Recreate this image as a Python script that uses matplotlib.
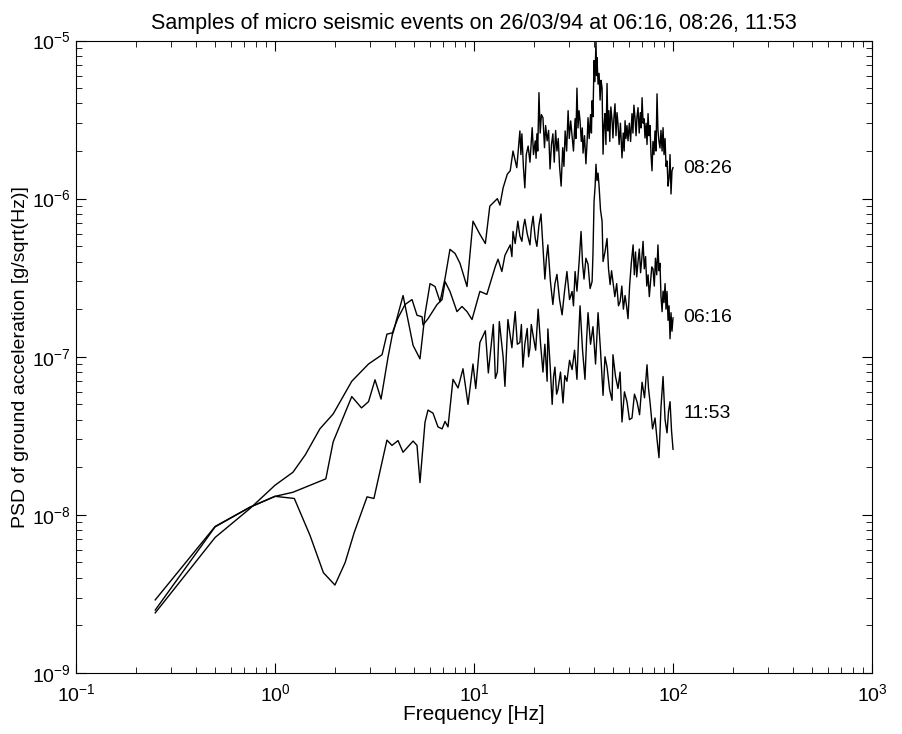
import matplotlib
matplotlib.use("Agg")
import matplotlib.pyplot as plt

plt.rcParams["font.family"] = ["Liberation Sans", "DejaVu Sans"]
plt.rcParams["mathtext.default"] = "regular"

title = "Samples of micro seismic events on 26/03/94 at 06:16, 08:26, 11:53"

# 08:26 event
f_0826 = [0.25, 0.5, 0.75, 1.0, 1.23, 1.42, 1.68, 1.96, 2.43, 2.95, 3.45, 3.65, 3.92,
          4.40, 4.94, 5.35, 5.67, 6.01, 6.37, 6.75, 7.15, 7.57, 8.03, 8.50, 9.22,
          9.88, 10.7, 11.4, 12.0, 13.1, 13.5, 14.0, 14.7, 15.2, 15.7, 16.4,
          17.0, 17.2, 17.4, 17.7, 18.0, 18.3, 18.7, 19.1, 19.6, 19.9, 20.3, 20.5,
          20.7, 20.9, 21.2, 21.5, 21.8, 22.2, 22.6, 22.9, 23.3, 23.7, 24.1, 24.5,
          24.9, 25.3, 25.7, 26.1, 26.5, 26.9, 27.4, 27.9, 28.3, 28.7, 29.2, 29.7,
          30.1, 30.6, 31.1, 31.6, 32.2, 32.5, 32.9, 33.3, 33.7, 34.1, 34.6, 35.0,
          35.3, 35.9, 36.5, 37.0, 37.4, 37.9, 38.5, 38.9, 39.2, 39.6, 40.1, 40.5,
          41.0, 41.3, 41.5, 42.0, 42.5, 43.0, 43.5, 44.0, 44.5, 45.0, 45.5, 46.0,
          46.6, 47.1, 47.6, 48.1, 48.7, 49.4, 49.9, 50.5, 51.1, 51.7, 52.3, 52.9,
          53.6, 54.4, 55.4, 56.2, 56.8, 57.4, 58.0, 58.7, 59.4, 60.3, 61.2, 62.2,
          62.9, 63.6, 64.4, 65.2, 65.9, 66.7, 67.6, 68.5, 69.2, 69.9, 70.7, 71.5,
          72.3, 73.2, 74.0, 74.9, 75.8, 76.6, 77.5, 78.4, 79.3, 80.2, 81.2, 82.1,
          83.1, 84.0, 85.0, 86.0, 87.0, 88.1, 89.1, 90.1, 91.2, 92.2, 93.3, 94.4,
          95.5, 96.6, 97.7, 98.8, 100.0]
psd_0826 = [2.4e-9, 7.2e-9, 1.1e-8, 1.54e-8, 1.86e-8, 2.4e-8, 3.5e-8, 4.35e-8, 7.0e-8,
            9.0e-8, 1.03e-7, 1.39e-7, 1.42e-7, 2.44e-7, 1.18e-7, 9.7e-8, 1.86e-7,
            2.9e-7, 2.78e-7, 2.23e-7, 3.13e-7, 4.78e-7, 4.5e-7, 3.9e-7, 2.78e-7,
            7.2e-7, 5.95e-7, 5.2e-7, 8.96e-7, 1.0e-6, 9.1e-7, 1.17e-6, 1.43e-6,
            1.5e-6, 2.0e-6, 1.57e-6,
            2.68e-6, 1.9e-6, 2.57e-6, 1.6e-6, 1.17e-6, 1.9e-6, 2.15e-6, 1.7e-6,
            2.81e-6, 1.9e-6, 2.32e-6, 1.8e-6, 2.57e-6, 2.0e-6, 4.68e-6, 2.6e-6,
            3.4e-6, 3.25e-6, 2.1e-6, 2.9e-6, 2.32e-6, 2.7e-6, 1.54e-6, 2.2e-6,
            2.57e-6, 1.7e-6, 2.7e-6, 2.0e-6, 2.4e-6, 1.6e-6, 1.2e-6, 2.1e-6,
            1.6e-6, 2.68e-6, 2.0e-6, 3.6e-6, 2.4e-6, 3.1e-6, 2.49e-6, 2.0e-6,
            3.2e-6, 2.4e-6, 5.0e-6, 2.8e-6, 3.6e-6, 3.11e-6, 2.3e-6, 2.8e-6,
            1.94e-6, 2.5e-6, 1.66e-6, 2.3e-6, 3.25e-6, 2.4e-6, 3.4e-6, 2.6e-6,
            4.16e-6, 3.3e-6, 7.47e-6, 5.5e-6, 1.0e-5, 6.0e-6, 7.8e-6, 5.3e-6,
            6.2e-6, 4.2e-6, 5.6e-6, 5.0e-6, 1.91e-6, 2.9e-6, 3.45e-6, 2.2e-6,
            5.35e-6, 2.68e-6, 3.6e-6, 2.3e-6, 3.8e-6, 3.11e-6, 2.42e-6, 3.3e-6,
            3.98e-6, 2.5e-6, 3.5e-6, 2.98e-6, 2.2e-6, 3.0e-6, 1.81e-6, 2.6e-6,
            2.0e-6, 3.11e-6, 2.4e-6, 2.9e-6, 2.32e-6, 3.0e-6, 2.3e-6, 3.45e-6,
            2.6e-6, 3.9e-6, 3.25e-6, 2.5e-6, 3.3e-6, 3.76e-6, 2.6e-6, 3.5e-6,
            2.8e-6, 4.35e-6, 3.0e-6, 3.2e-6, 2.42e-6, 3.0e-6, 2.2e-6, 3.45e-6,
            2.5e-6, 2.9e-6, 1.9e-6, 1.5e-6, 2.3e-6, 1.9e-6, 2.68e-6, 2.0e-6,
            4.6e-6, 2.7e-6, 2.3e-6, 2.09e-6, 2.7e-6, 2.0e-6, 2.81e-6, 1.9e-6,
            2.4e-6, 1.6e-6, 1.73e-6, 1.2e-6, 1.35e-6, 1.9e-6, 1.07e-6, 1.5e-6,
            1.57e-6]

# 06:16 event
f_0616 = [0.25, 0.5, 0.75, 1.0, 1.23, 1.8, 1.96, 2.43, 2.72, 2.95, 3.18, 3.41, 3.70,
          3.92, 4.15, 4.50, 4.88, 5.17, 5.48, 5.54, 5.87, 6.52, 6.91, 7.15, 7.57,
          8.21, 8.70, 9.22, 9.77, 10.7, 11.6, 12.0, 12.8, 13.2, 13.8, 14.3,
          15.2, 15.5, 15.7, 16.1, 16.6, 17.0, 17.4, 17.7, 18.0, 18.5, 19.1, 19.4,
          19.8, 20.3, 20.7, 21.2, 21.7, 22.2, 22.7, 23.1, 23.5, 24.2, 24.9, 25.5,
          26.1, 26.9, 27.7, 28.5, 29.3, 30.2, 31.1, 31.6, 32.2, 32.9, 33.7, 34.5,
          35.1, 35.7, 36.5, 37.4, 38.3, 39.2, 39.6, 40.1, 40.6, 41.0, 41.5, 42.0,
          42.5, 43.2, 44.0, 44.5, 45.5, 46.6, 47.4, 48.3, 49.1, 49.9, 51.0, 52.1,
          53.2, 54.2, 55.3, 56.3, 57.4, 58.4, 59.4, 60.5, 61.7, 63.0, 63.9, 64.8,
          65.7, 66.7, 67.7, 68.7, 69.7, 70.7, 71.7, 72.8, 73.8, 74.9, 76.0, 77.1,
          78.2, 79.3, 80.5, 81.6, 82.8, 84.0, 85.0, 86.0, 87.0, 88.1, 89.1, 90.1,
          91.2, 92.2, 93.3, 94.4, 95.5, 96.6, 97.7, 98.8, 100.0]
psd_0616 = [2.5e-9, 8.4e-9, 1.12e-8, 1.31e-8, 1.39e-8, 1.69e-8, 2.9e-8, 5.6e-8, 4.75e-8,
            5.2e-8, 7.15e-8, 5.4e-8, 1.0e-7, 1.46e-7, 1.76e-7, 2.14e-7, 2.3e-7,
            1.83e-7, 1.79e-7, 1.59e-7, 1.74e-7, 2.14e-7, 2.3e-7, 2.99e-7, 2.59e-7,
            1.93e-7, 2.08e-7, 1.93e-7, 1.72e-7, 2.59e-7, 2.48e-7, 2.86e-7, 3.73e-7,
            4.14e-7, 3.46e-7, 4.38e-7,
            5.1e-7, 4.3e-7, 6.2e-7, 5.2e-7, 7.2e-7, 5.8e-7, 5.37e-7, 6.6e-7,
            7.4e-7, 6.0e-7, 5.1e-7, 6.5e-7, 7.74e-7, 5.6e-7, 4.99e-7, 6.8e-7,
            8.0e-7, 5.0e-7, 3.1e-7, 4.2e-7, 5.1e-7, 3.0e-7, 2.14e-7, 2.9e-7,
            3.32e-7, 2.3e-7, 1.84e-7, 2.6e-7, 3.46e-7, 2.3e-7, 2.59e-7, 2.1e-7,
            3.46e-7, 2.6e-7, 3.9e-7, 6.2e-7, 3.9e-7, 3.1e-7, 4.2e-7, 3.85e-7,
            2.7e-7, 2.99e-7, 4.5e-7, 9.6e-7, 1.2e-6, 1.65e-6, 1.3e-6, 1.45e-6,
            1.2e-6, 8.5e-7, 7.2e-7, 4.0e-7, 4.6e-7, 5.6e-7, 3.6e-7, 2.86e-7,
            3.5e-7, 2.99e-7, 2.4e-7, 2.9e-7, 2.1e-7, 2.23e-7, 2.8e-7, 2.0e-7,
            2.44e-7, 2.1e-7, 1.74e-7, 2.8e-7, 3.9e-7, 5.1e-7, 3.3e-7, 4.6e-7,
            3.2e-7, 4.0e-7, 4.8e-7, 3.4e-7, 4.2e-7, 5.37e-7, 3.6e-7, 4.3e-7,
            2.8e-7, 3.3e-7, 2.4e-7, 3.0e-7, 3.7e-7, 3.6e-7, 2.8e-7, 4.2e-7,
            3.3e-7, 5.1e-7, 3.5e-7, 3.9e-7, 2.4e-7, 1.93e-7, 2.6e-7, 2.2e-7,
            2.9e-7, 2.0e-7, 2.59e-7, 1.7e-7, 2.1e-7, 1.3e-7, 1.9e-7, 1.45e-7,
            1.76e-7]

# 11:53 event
f_1153 = [0.25, 0.5, 0.75, 1.0, 1.25, 1.5, 1.75, 2.0, 2.25, 2.5, 2.9, 3.14, 3.65,
          3.87, 4.15, 4.40, 4.94, 5.17, 5.35, 5.67, 5.87, 6.22, 6.59, 6.91, 7.15,
          7.40, 7.84, 8.31, 8.80, 9.33, 9.88, 10.2, 10.7, 11.4, 11.8, 12.5, 12.8,
          13.1, 13.4, 14.0, 14.3, 14.8,
          15.5, 15.8, 16.1, 16.5, 17.0, 17.3, 17.6, 18.0, 18.5, 18.8, 19.1, 19.4,
          19.8, 20.4, 21.0, 21.6, 22.2, 22.7, 23.3, 23.5, 24.1, 24.7, 25.1, 25.5,
          26.0, 26.4, 27.2, 28.0, 28.6, 29.3, 30.2, 31.1, 32.0, 32.9, 33.5, 34.1,
          35.1, 36.1, 36.8, 37.4, 38.5, 39.6, 40.8, 42.0, 43.2, 44.5, 45.5, 46.6,
          48.0, 49.4, 49.9, 51.4, 52.9, 54.2, 55.4, 57.0, 58.7, 60.4, 62.2, 64.0,
          65.9, 67.9, 69.9, 71.9, 74.0, 75.3, 76.6, 78.9, 81.2, 83.1, 85.0, 87.0,
          89.1, 91.2, 93.3, 94.9, 96.6, 98.3, 100.0]
psd_1153 = [2.9e-9, 8.45e-9, 1.12e-8, 1.31e-8, 1.27e-8, 7.4e-9, 4.31e-9, 3.6e-9,
            4.99e-9, 7.74e-9, 1.3e-8, 1.27e-8, 2.97e-8, 2.75e-8, 2.95e-8, 2.49e-8,
            2.93e-8, 2.75e-8, 1.6e-8, 3.85e-8, 4.6e-8, 4.4e-8, 3.6e-8, 3.5e-8,
            3.9e-8, 3.6e-8, 7.2e-8, 6.35e-8, 8.4e-8, 5.0e-8, 9.0e-8, 6.3e-8,
            1.23e-7, 1.46e-7, 7.9e-8, 1.6e-7, 7.3e-8, 8.0e-8, 1.67e-7, 1.0e-7,
            6.5e-8, 1.72e-7,
            1.14e-7, 1.5e-7, 1.93e-7, 1.2e-7, 1.23e-7, 1.6e-7, 8.6e-8, 1.2e-7,
            1.51e-7, 1.0e-7, 1.14e-7, 1.6e-7, 1.37e-7, 1.1e-7, 2.0e-7, 1.2e-7,
            8.0e-8, 1.2e-7, 7.0e-8, 1.5e-7, 9.0e-8, 5.0e-8, 7.5e-8, 8.6e-8,
            5.8e-8, 6.2e-8, 8.0e-8, 5.1e-8, 7.6e-8, 7.0e-8, 9.5e-8, 8.3e-8,
            1.1e-7, 7.2e-8, 1.3e-7, 2.1e-7, 1.1e-7, 7.2e-8, 1.3e-7, 1.9e-7,
            1.2e-7, 1.55e-7, 9.0e-8, 1.9e-7, 1.1e-7, 5.7e-8, 1.0e-7, 8.6e-8,
            6.2e-8, 5.3e-8, 1.03e-7, 7.5e-8, 6.3e-8, 8.0e-8, 3.87e-8, 6.0e-8,
            5.2e-8, 4.0e-8, 4.1e-8, 5.8e-8, 5.2e-8, 4.3e-8, 6.9e-8, 5.5e-8,
            8.9e-8, 6.3e-8, 5.2e-8, 3.5e-8, 4.1e-8, 3.0e-8, 2.3e-8, 4.8e-8,
            7.5e-8, 4.0e-8, 3.3e-8, 4.5e-8, 5.2e-8, 3.4e-8, 2.6e-8]

labels = ["08:26", "06:16", "11:53"]
label_y = [1.56e-6, 1.76e-7, 4.4e-8]

fig = plt.figure(figsize=(9.03, 7.34), dpi=100)
ax = fig.add_axes([0.0842, 0.0831, 0.8815, 0.8617])

for f, p in [(f_0826, psd_0826), (f_0616, psd_0616), (f_1153, psd_1153)]:
    ax.plot(f, p, color="black", lw=1.0)

for lab, y in zip(labels, label_y):
    ax.text(113, y, lab, fontsize=14, va="center", ha="left")

ax.set_xscale("log")
ax.set_yscale("log")
ax.set_xlim(0.1, 1000)
ax.set_ylim(1e-9, 1e-5)
ax.tick_params(which="both", direction="in", top=True, right=True, labelsize=14)
ax.tick_params(axis="x", pad=7)
ax.tick_params(axis="y", pad=4)
ax.tick_params(which="major", length=7)
ax.tick_params(which="minor", length=4)
ax.set_xlabel("Frequency [Hz]", fontsize=15, labelpad=0)
ax.set_ylabel("PSD of ground acceleration [g/sqrt(Hz)]", fontsize=14, labelpad=2)
ax.set_title(title, fontsize=15.5, pad=8)

fig.savefig("out.png", dpi=100)
